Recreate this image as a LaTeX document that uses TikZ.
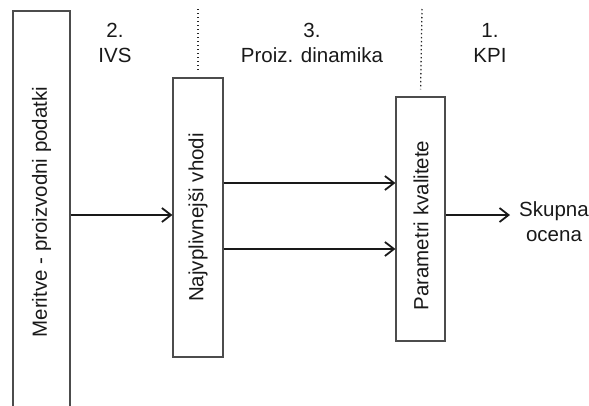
\documentclass[tikz,border=0pt]{standalone}
\usepackage{fontspec}
\setmainfont{Liberation Sans}
\usetikzlibrary{arrows.meta}
\begin{document}
\begin{tikzpicture}[x=1pt,y=-1pt,
  txt/.style={font=\fontsize{20.5}{25}\selectfont, text=black!90},
  stage/.style={draw=black!70, line width=1.2pt, rotate=90, inner sep=0pt, txt},
  arr/.style={draw=black!90, line width=1.6pt,
    -{Straight Barb[length=9pt,width=14pt,line width=1.8pt]}},
  sep/.style={draw=black!85, line width=1.3pt, dash pattern=on 1.3pt off 2.7pt},
  head/.style={txt, align=center, inner sep=0pt, anchor=base}]
\useasboundingbox (0,0) rectangle (589,405);
\clip (0,0) rectangle (589,405);

% process stages (the first one runs past the lower edge)
\node[stage, minimum width=402pt, minimum height=57pt] (meas) at (41.5,212)
  {Meritve - proizvodni podatki};
\node[stage, minimum width=279pt, minimum height=50pt] (mid) at (198,217.5)
  {Najvplivnejši vhodi};
\node[stage, minimum width=244pt, minimum height=49pt] (qual) at (420.5,219) {};
\node[txt, rotate=90, inner sep=0pt] (qualtxt) at (421,225.5) {Parametri kvalitete};

% phase headings (base anchor = baseline of the last line)
\node[head] (h2) at (115,62) {2.\\IVS};
\node[head] (h3) at (312,62) {3.\\Proiz. dinamika};
\node[head] (h1) at (490,62) {1.\\KPI};

% phase separators
\coordinate (s1) at (198,9);
\coordinate (s2) at (422,9);
\draw[sep, shorten >=8pt] (s1) -- (mid.east);
\draw[sep, shorten >=7pt] (s2) -- (qual.east);

% result
\node[head] (total) at (554,241) {Skupna\\ocena};
\coordinate (out) at (510,215);

% connectors
\draw[arr] (meas.south |- 0,215) -- (mid.north |- 0,215);
\draw[arr] (mid.south |- 0,183) -- (qual.north |- 0,183);
\draw[arr] (mid.south |- 0,249) -- (qual.north |- 0,249);
\draw[arr] (qual.south |- 0,215) -- (out);
\end{tikzpicture}
\end{document}
